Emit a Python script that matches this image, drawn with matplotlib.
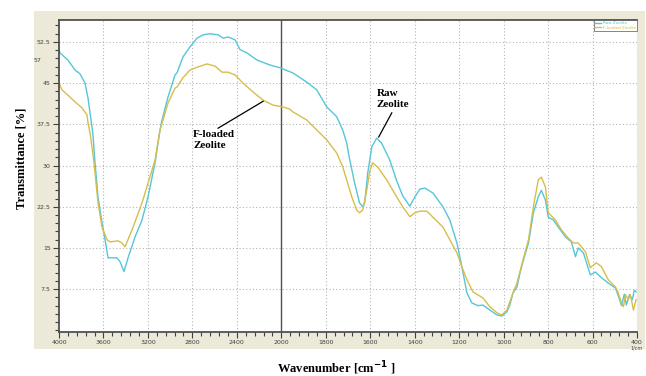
import numpy as np
import matplotlib
matplotlib.use('Agg')
import matplotlib.pyplot as plt
from matplotlib.patches import Rectangle
from matplotlib.ticker import FixedLocator, MultipleLocator

# FTIR spectra (wavenumber in 1/cm, transmittance in %)
raw_wn = [4000, 3991, 3919, 3856, 3811, 3766, 3739, 3721, 3703, 3694, 3676, 3649, 3613,
          3586, 3559, 3514, 3478, 3451, 3415, 3379, 3316, 3253, 3199, 3136, 3091, 3073,
          3019, 2956, 2938, 2884, 2821, 2758, 2704, 2641, 2569, 2524, 2479, 2416, 2371,
          2308, 2281, 2218, 2101, 2011, 1963, 1949, 1886, 1841, 1796, 1751, 1724, 1706,
          1692, 1670, 1648, 1634, 1625, 1611, 1593, 1571, 1549, 1512, 1481, 1454, 1422,
          1399, 1377, 1354, 1318, 1273, 1242, 1210, 1188, 1165, 1143, 1116, 1093, 1062,
          1030, 1008, 985, 972, 958, 940, 927, 913, 888, 866, 844, 830, 812, 799, 776,
          754, 722, 695, 677, 664, 641, 610, 587, 560, 529, 497, 484, 470, 457, 448, 434,
          421, 412, 404]
raw_t = [51.1, 50.5, 49.2, 47.4, 46.7, 45.0, 42.3, 39.6, 37.0, 35.5, 30.5, 24.3, 19.6,
         16.5, 13.2, 13.2, 13.2, 12.5, 10.7, 13.2, 17.0, 20.1, 24.3, 30.5, 36.5, 38.3,
         42.5, 46.5, 46.9, 49.8, 51.6, 53.2, 53.8, 54.0, 53.8, 53.2, 53.4, 52.9, 51.1,
         50.5, 50.1, 49.2, 48.3, 47.8, 47.1, 46.9, 45.2, 43.8, 40.7, 38.9, 36.5, 34.1,
         31.0, 26.8, 23.2, 22.5, 23.2, 28.7, 33.4, 35.0, 34.1, 31.0, 27.2, 24.5, 22.6,
         24.3, 25.7, 25.9, 25.0, 22.5, 20.1, 15.9, 11.6, 6.8, 5.0, 4.5, 4.6, 3.7,
         2.8, 2.6, 3.4, 4.6, 6.8, 7.9, 10.3, 12.5, 15.9, 21.4, 24.3, 25.5, 23.7, 20.6, 20.1,
         18.8, 17.0, 16.1, 13.4, 15.0, 14.1, 10.1, 10.6, 9.6, 8.6, 7.7, 6.3, 4.5, 6.6, 4.6, 6.5,
         5.6, 7.3, 7.0]

f_wn = [4000, 3973, 3919, 3856, 3793, 3748, 3739, 3721, 3712, 3685, 3649, 3613, 3568,
        3541, 3469, 3433, 3406, 3343, 3253, 3199, 3136, 3091, 3073, 3019, 2956, 2938,
        2884, 2821, 2758, 2668, 2596, 2533, 2479, 2416, 2344, 2254, 2164, 2074, 1994,
        1963, 1949, 1886, 1841, 1796, 1751, 1724, 1706, 1683, 1661, 1648, 1634, 1616,
        1602, 1589, 1566, 1526, 1481, 1454, 1422, 1399, 1377, 1345, 1318, 1273, 1242,
        1210, 1188, 1165, 1138, 1093, 1062, 1030, 1008, 985, 958, 940, 913, 888, 866,
        844, 830, 812, 799, 767, 740, 709, 686, 664, 632, 610, 583, 560, 529, 497, 484,
        470, 461, 452, 439, 430, 416, 404]
f_t = [45.0, 43.8, 42.8, 41.6, 40.5, 39.2, 37.8, 35.9, 34.7, 30.5, 23.2, 18.8, 16.5,
       16.1, 16.3, 15.9, 15.2, 18.3, 23.2, 26.8, 31.0, 36.5, 37.7, 41.4, 44.1, 44.3,
       46.0, 47.4, 47.9, 48.5, 48.1, 47.0, 47.0, 46.5, 45.0, 43.4, 41.9, 41.0, 40.7,
       40.3, 39.8, 38.3, 36.5, 34.7, 32.3, 29.8, 27.4, 24.3, 21.9, 21.4, 21.9, 25.4,
       29.0, 30.5, 29.7, 27.4, 24.3, 22.5, 20.7, 21.4, 21.7, 21.7, 20.6, 18.8, 16.5,
       14.1, 11.6, 9.2, 7.0, 5.9, 4.3, 3.2, 2.8, 3.7, 6.8, 8.6, 12.8, 16.5, 22.5,
       27.4, 27.9, 26.1, 21.4, 20.1, 18.3, 16.8, 15.9, 15.9, 14.3, 11.4, 12.3, 11.6, 9.2, 7.9, 6.8,
       5.0, 4.3, 6.5, 5.6, 6.5, 3.7, 5.6]

x_ticks = [4000, 3600, 3200, 2800, 2400, 2000, 1800, 1600, 1400, 1200, 1000, 800, 600, 400]
y_ticks = [7.5, 15, 22.5, 30, 37.5, 45, 52.5]
y_labels = ['7.5', '15', '22.5', '30', '37.5', '45', '52.5']

cyan = '#55c6d8'
yellow = '#d6be4c'

# spectrometer style axis: region below 2000 1/cm stretched two times
def fwd(w):
    w = np.asarray(w, dtype=float)
    return np.where(w < 2000, 2 * w, w + 2000)

def inv(v):
    v = np.asarray(v, dtype=float)
    return np.where(v < 4000, v / 2, v - 2000)

fig = plt.figure(figsize=(6.46, 3.76), dpi=100)
panel = Rectangle((34 / 646, 1 - 349 / 376), 611 / 646, 338 / 376,
                  transform=fig.transFigure, facecolor='#ece9d8',
                  edgecolor='none', zorder=-10)
fig.patches.append(panel)
ax = fig.add_axes([59 / 646, 1 - 332 / 376, 578 / 646, 312 / 376])
ax.set_zorder(1)
ax.set_facecolor('white')
ax.set_xscale('function', functions=(fwd, inv))

ax.plot(raw_wn, raw_t, color=cyan, lw=1.0, label='Raw Zeolite')
ax.plot(f_wn, f_t, color=yellow, lw=1.0, label='F-loaded Zeolite')

ax.set_xlim(4000, 400)
ax.set_ylim(-0.3, 56.5)

# grid
grid_x = [3600, 3200, 2800, 2400, 1800, 1600, 1400, 1200, 1000, 800, 600, 400]
for g in grid_x:
    ax.axvline(g, color='#b4b4b4', lw=0.8, ls=(0, (1, 2)), zorder=0)
for g in y_ticks:
    ax.axhline(g, color='#b4b4b4', lw=0.8, ls=(0, (1, 2)), zorder=0)
ax.axvline(2000, color='#505050', lw=1.0, zorder=1)

ax.xaxis.set_major_locator(FixedLocator(x_ticks))
ax.xaxis.set_minor_locator(FixedLocator(list(range(4000, 2000, -80)) + list(range(2000, 399, -40))))
ax.set_xticklabels([str(v) for v in x_ticks])
ax.yaxis.set_major_locator(FixedLocator(y_ticks))
ax.yaxis.set_minor_locator(MultipleLocator(1.5))
ax.set_yticklabels(y_labels)
ax.tick_params(axis='both', which='major', labelsize=4.5, colors='#404040', width=0.8, length=4, pad=2)
ax.tick_params(axis='both', which='minor', colors='#404040', width=0.8, length=3)

for s in ['left', 'bottom', 'top']:
    ax.spines[s].set_color('#505050')
    ax.spines[s].set_linewidth(1.3)
ax.spines['right'].set_visible(False)

ax.text(-0.03, 49.05, '57', transform=ax.get_yaxis_transform(), fontsize=4.5,
        color='#404040', ha='right', va='center')
ax.text(1.0, -0.052, '1/cm', transform=ax.transAxes, fontsize=3.5, color='#404040',
        ha='center', va='center')

fig.text(22 / 646, 1 - 158 / 376, 'Transmittance [%]', family='Liberation Serif',
         fontweight='bold', fontsize=9, rotation=90, ha='center', va='center')
fig.text(336 / 646, 1 - 368 / 376, 'Wavenumber [cm$^{\\mathbf{-1}}$ ]', family='Liberation Serif',
         fontweight='bold', fontsize=9, ha='center', va='center')

# annotations
ax.text(1571, 42.1, 'Raw\nZeolite', family='Liberation Serif', fontweight='bold',
        fontsize=8, ha='left', va='center', linespacing=1.3)
ax.plot([1503, 1562], [39.6, 35.2], color='black', lw=0.9)
ax.text(2794, 34.7, 'F-loaded\nZeolite', family='Liberation Serif', fontweight='bold',
        fontsize=8, ha='left', va='center', linespacing=1.3)
ax.plot([2569, 2164], [36.8, 41.7], color='black', lw=0.9)

leg = ax.legend(loc='upper right', fontsize=3, frameon=True, handlelength=1.5,
                borderpad=0.2, labelspacing=0.1, handletextpad=0.4,
                borderaxespad=0.1, labelcolor='linecolor', fancybox=False)
leg.get_frame().set_edgecolor('#505050')
leg.get_frame().set_linewidth(0.6)

fig.savefig('out.png', dpi=100)
